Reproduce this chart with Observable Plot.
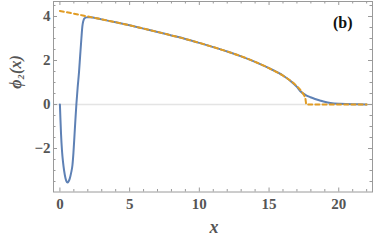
<!DOCTYPE html>
<html>
<head>
<meta charset="utf-8">
<script src="https://cdn.jsdelivr.net/npm/d3@7"></script>
<script src="https://cdn.jsdelivr.net/npm/@observablehq/plot@0.6"></script>
<style>
  html, body { margin: 0; padding: 0; background: #fff; }
</style>
</head>
<body>
<div id="chart"></div>
<script>
// Blue curve: numerical solution phi_2(x)
const blueX = [0, 0.04, 0.08, 0.15, 0.22, 0.3, 0.4, 0.5, 0.55, 0.62, 0.7, 0.8, 0.9, 0.97, 1.05, 1.12, 1.18, 1.27, 1.37, 1.45, 1.54, 1.61, 1.68, 1.77, 1.9, 2.1, 3, 4, 5, 6, 7, 8, 9, 10, 11, 12, 13, 14, 15, 16, 16.5, 17, 17.25, 17.6, 17.97, 18.3, 18.7, 19.05, 19.4, 20.1, 21, 22];
const blueY = [0, -0.7, -1.33, -2.1, -2.6, -3.0, -3.35, -3.53, -3.55, -3.5, -3.38, -3.12, -2.75, -2.2, -1.35, -0.6, 0, 0.75, 1.47, 2.2, 3.0, 3.55, 3.8, 3.92, 3.96, 3.97, 3.87, 3.74, 3.6, 3.45, 3.3, 3.14, 2.98, 2.8, 2.61, 2.41, 2.19, 1.94, 1.65, 1.32, 1.09, 0.8, 0.6, 0.44, 0.33, 0.25, 0.17, 0.11, 0.07, 0.03, 0.01, 0.005];
// Orange dashed curve: approximation
const orangeX = [0, 1, 2, 3, 4, 5, 6, 7, 8, 9, 10, 11, 12, 13, 14, 15, 16, 16.5, 17, 17.3, 17.5, 17.6, 17.68, 18, 19, 20, 21, 22];
const orangeY = [4.25, 4.13, 4.0, 3.87, 3.74, 3.6, 3.45, 3.3, 3.14, 2.98, 2.8, 2.61, 2.41, 2.19, 1.94, 1.65, 1.31, 1.1, 0.83, 0.62, 0.43, 0.29, 0, 0, 0, 0, 0, 0];
// Ticks
const xMajor = [0, 5, 10, 15, 20];
const xMinor = [1, 2, 3, 4, 6, 7, 8, 9, 11, 12, 13, 14, 16, 17, 18, 19, 21, 22];
const yMajor = [-2, 0, 2, 4];
const yMinor = [-3.5, -3, -2.5, -1.5, -1, -0.5, 0.5, 1, 1.5, 2.5, 3, 3.5, 4.5];
const xTickLabels = ["0", "5", "10", "15", "20"];
const yTickLabels = ["\u22122", "0", "2", "4"];
const panelLabel = "(b)";
const xLabel = "x";
const yLabel = "\u03D5\u2082(x)";

const blue = blueX.map((x, i) => ({x, y: blueY[i]}));
const orange = orangeX.map((x, i) => ({x, y: orangeY[i]}));

const W = 373, H = 244;
const mT = 1, mB = 52.5, mL = 53, mR = 1;
const fh = H - mT - mB, fw = W - mL - mR;
const frameCol = "#9a9a9a";
const serif = "Times New Roman, Liberation Serif, DejaVu Serif, serif";

const chart = Plot.plot({
  width: W,
  height: H,
  marginTop: mT,
  marginBottom: mB,
  marginLeft: mL,
  marginRight: mR,
  style: {fontFamily: serif, fontWeight: "bold", fontSize: "14px", color: "#555", background: "#fff"},
  x: {domain: [-0.46, 22.42]},
  y: {domain: [-3.977, 4.682]},
  marks: [
    Plot.ruleY([0], {stroke: "#e4e4e4", strokeWidth: 1.6}),
    Plot.frame({stroke: frameCol, strokeWidth: 1}),
    // inward ticks bottom / top
    Plot.tickX(xMajor, {x: d => d, stroke: frameCol, insetTop: fh - 4}),
    Plot.tickX(xMinor, {x: d => d, stroke: frameCol, insetTop: fh - 2.5}),
    Plot.tickX(xMajor, {x: d => d, stroke: frameCol, insetBottom: fh - 4}),
    Plot.tickX(xMinor, {x: d => d, stroke: frameCol, insetBottom: fh - 2.5}),
    // inward ticks left / right
    Plot.tickY(yMajor, {y: d => d, stroke: frameCol, insetRight: fw - 4}),
    Plot.tickY(yMinor, {y: d => d, stroke: frameCol, insetRight: fw - 2.5}),
    Plot.tickY(yMajor, {y: d => d, stroke: frameCol, insetLeft: fw - 4}),
    Plot.tickY(yMinor, {y: d => d, stroke: frameCol, insetLeft: fw - 2.5}),
    Plot.axisX(xMajor, {tickSize: 0, tickPadding: 6, tickFormat: (d, i) => xTickLabels[i], fill: "#555", fontSize: 15, fontFamily: serif, fontWeight: "bold", label: null}),
    Plot.axisY(yMajor, {tickSize: 0, tickPadding: 3, tickFormat: (d, i) => yTickLabels[i], fill: "#555", fontSize: 15, fontFamily: serif, fontWeight: "bold", label: null}),
    Plot.line(blue, {x: "x", y: "y", stroke: "#5E81B5", strokeWidth: 2, curve: "monotone-x"}),
    Plot.line(orange, {x: "x", y: "y", stroke: "#E19C24", strokeWidth: 2, strokeDasharray: "4,3.2", curve: "monotone-x"}),
    Plot.text([panelLabel], {frameAnchor: "top-right", dx: -20, dy: 15, text: d => d, fill: "#111", fontSize: 16, fontFamily: serif, fontWeight: "bold"}),
    Plot.text([xLabel], {frameAnchor: "bottom", dy: 41, dx: 1, text: d => d, fill: "#555", fontSize: 18, fontFamily: serif, fontStyle: "italic", fontWeight: "bold"}),
    Plot.text([yLabel], {frameAnchor: "left", dx: -38, dy: -8, rotate: -90, text: d => d, fill: "#555", fontSize: 16, fontFamily: serif, fontStyle: "italic", fontWeight: "bold"})
  ]
});
document.getElementById("chart").appendChild(chart);
</script>
</body>
</html>
